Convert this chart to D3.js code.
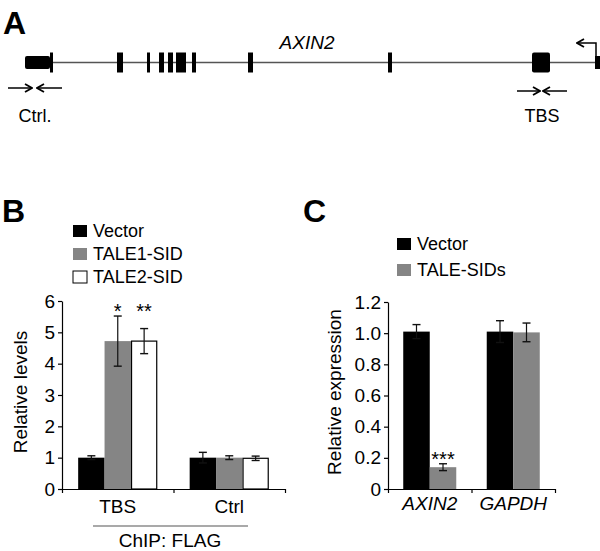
<!DOCTYPE html>
<html>
<head>
<meta charset="utf-8">
<script src="https://cdn.jsdelivr.net/npm/d3@7"></script>
<style>
  body { margin: 0; background: #fff; }
  text { font-family: Arial, "Liberation Sans", sans-serif; fill: #000; }
  .axis text { font-size: 19px; }
  .axis path, .axis line { stroke: #000; stroke-width: 1.2; }
</style>
</head>
<body>
<div class="chart"></div>
<script>
// ---- data -----------------------------------------------------------
// gene map (positions in map units along the AXIN2 locus, left = 3' end)
var exons = [
  { start: 25, end: 50, type: "utr" },
  { start: 50, end: 53, type: "cds" },
  { start: 117, end: 123, type: "cds" },
  { start: 147, end: 150, type: "cds" },
  { start: 159, end: 164, type: "cds" },
  { start: 168, end: 173, type: "cds" },
  { start: 176, end: 186, type: "cds" },
  { start: 192, end: 196, type: "cds" },
  { start: 248, end: 253, type: "cds" },
  { start: 388, end: 392, type: "cds" },
  { start: 532, end: 550, type: "cds" },
  { start: 595, end: 600, type: "utr" }
];
var primers = [
  { label: "Ctrl.", fwd: [8, 32], rev: [62, 37] },
  { label: "TBS", fwd: [517, 540], rev: [567, 543] }
];

// panel B: ChIP
var chipSites = ["TBS", "Ctrl"];
var chipSeries = ["Vector", "TALE1-SID", "TALE2-SID"];
var chipValues = [[1.0, 4.72, 4.72], [1.0, 1.0, 0.98]];
var chipErrors = [[0.06, 0.8, 0.4], [0.17, 0.06, 0.07]];
var chipStars = [["", "*", "**"], ["", "", ""]];
var chipTicks = [0, 1, 2, 3, 4, 5, 6];
var chipTickLabels = ["0", "1", "2", "3", "4", "5", "6"];

// panel C: expression
var genes = ["AXIN2", "GAPDH"];
var exprSeries = ["Vector", "TALE-SIDs"];
var exprValues = [[1.01, 0.14], [1.01, 1.005]];
var exprErrors = [[0.045, 0.022], [0.07, 0.06]];
var exprStars = [["", "***"], ["", ""]];
var exprTicks = [0, 0.2, 0.4, 0.6, 0.8, 1.0, 1.2];
var exprTickLabels = ["0", "0.2", "0.4", "0.6", "0.8", "1.0", "1.2"];

var fills = { "Vector": "#000", "TALE1-SID": "#858585", "TALE2-SID": "#fff", "TALE-SIDs": "#858585" };

// ---- svg ------------------------------------------------------------
var svg = d3.select(".chart").append("svg")
  .attr("width", 600).attr("height", 551);

var defs = svg.append("defs");
defs.append("marker")
  .attr("id", "arr")
  .attr("viewBox", "0 0 10 10")
  .attr("refX", 9).attr("refY", 5)
  .attr("markerWidth", 10).attr("markerHeight", 10)
  .attr("markerUnits", "userSpaceOnUse")
  .attr("orient", "auto")
  .append("path")
  .attr("d", "M2,1 L9,5 L2,9")
  .attr("fill", "none").attr("stroke", "#000").attr("stroke-width", 1.8);

// panel letters
[["A", 3, 34], ["B", 2, 222], ["C", 303, 222]].forEach(function (p) {
  svg.append("text")
    .attr("x", p[1]).attr("y", p[2])
    .attr("font-size", 32).attr("font-weight", "bold")
    .text(p[0]);
});

// ---- panel A: gene map ----------------------------------------------
var gx = d3.scaleLinear().domain([0, 600]).range([0, 600]);
var lineY = 62.5;
var gA = svg.append("g");

gA.append("line")
  .attr("x1", gx(25)).attr("x2", gx(600))
  .attr("y1", lineY).attr("y2", lineY)
  .attr("stroke", "#555").attr("stroke-width", 1.5);

gA.selectAll(".exon").data(exons).enter().append("rect")
  .attr("class", "exon")
  .attr("x", d => gx(d.start))
  .attr("width", d => gx(d.end) - gx(d.start))
  .attr("y", d => d.type == "utr" ? lineY - 6.5 : lineY - 10)
  .attr("height", d => d.type == "utr" ? 13 : 20)
  .attr("rx", d => d.end - d.start > 15 ? 2 : 0)
  .attr("fill", "#000");

gA.append("text")
  .attr("x", gx(307)).attr("y", 49)
  .attr("text-anchor", "middle")
  .attr("font-size", 19).attr("font-style", "italic")
  .text("AXIN2");

// transcription start arrow
gA.append("path")
  .attr("d", `M${gx(596)},${lineY - 6} V43 H${gx(577)}`)
  .attr("fill", "none").attr("stroke", "#000").attr("stroke-width", 1.5)
  .attr("marker-end", "url(#arr)");

primers.forEach(function (p) {
  var y = p.label == "TBS" ? 91 : 88;
  [p.fwd, p.rev].forEach(function (a) {
    gA.append("line")
      .attr("x1", gx(a[0])).attr("x2", gx(a[1]))
      .attr("y1", y).attr("y2", y)
      .attr("stroke", "#000").attr("stroke-width", 1.5)
      .attr("marker-end", "url(#arr)");
  });
  gA.append("text")
    .attr("x", gx((p.fwd[0] + p.rev[0]) / 2)).attr("y", 122)
    .attr("text-anchor", "middle").attr("font-size", 18)
    .text(p.label);
});

// ---- bar chart helper -----------------------------------------------
function barPanel(opt) {
  var y = d3.scaleLinear().domain(opt.domain).range([489, opt.top]);
  var x0 = d3.scaleBand().domain(opt.cats).range([opt.left, opt.right])
    .paddingInner(opt.pad).paddingOuter(opt.pad / 2);
  var x1 = d3.scaleBand().domain(opt.series).range([0, x0.bandwidth()]);
  var g = svg.append("g");

  var yAxis = d3.axisLeft(y).tickValues(opt.ticks).tickSize(4).tickPadding(3).tickSizeOuter(0)
    .tickFormat((d, i) => opt.tickLabels[i]);
  g.append("g").attr("class", "axis")
    .attr("transform", `translate(${opt.left},0)`)
    .call(yAxis);

  // x axis with ticks at the category boundaries
  var xb = d3.scaleLinear().domain([0, opt.cats.length]).range([opt.left, opt.right]);
  g.append("g").attr("class", "axis")
    .attr("transform", "translate(0,489)")
    .call(d3.axisBottom(xb).tickValues(d3.range(opt.cats.length + 1))
      .tickSize(4).tickSizeOuter(0).tickFormat(""));

  opt.cats.forEach(function (cat, ci) {
    var grp = g.append("g").attr("transform", `translate(${x0(cat)},0)`);
    // stars sit just above the highest starred error bar of the group
    var starTop = d3.max(opt.series, (s, si) => opt.stars[ci][si] ? opt.values[ci][si] + opt.errors[ci][si] : null);
    opt.series.forEach(function (s, si) {
      var v = opt.values[ci][si], e = opt.errors[ci][si];
      var cx = x1(s) + x1.bandwidth() / 2;
      grp.append("rect")
        .attr("x", x1(s) + (fills[s] == "#fff" ? 0.6 : 0))
        .attr("width", x1.bandwidth() - (fills[s] == "#fff" ? 1.2 : 0))
        .attr("y", y(v)).attr("height", y(0) - y(v))
        .attr("fill", fills[s])
        .attr("stroke", fills[s] == "#fff" ? "#000" : "none")
        .attr("stroke-width", 1.2);
      grp.append("line")
        .attr("x1", cx).attr("x2", cx)
        .attr("y1", y(v + e)).attr("y2", y(v - e))
        .attr("stroke", "#111").attr("stroke-width", 1.2);
      [v + e, v - e].forEach(function (t) {
        grp.append("line")
          .attr("x1", cx - 4).attr("x2", cx + 4)
          .attr("y1", y(t)).attr("y2", y(t))
          .attr("stroke", "#111").attr("stroke-width", 1.4);
      });
      if (opt.stars[ci][si]) {
        grp.append("text")
          .attr("x", cx).attr("y", y(starTop) + 2)
          .attr("text-anchor", "middle").attr("font-size", 20)
          .text(opt.stars[ci][si]);
      }
    });
    g.append("text")
      .attr("x", x0(cat) + x0.bandwidth() / 2).attr("y", opt.labelY)
      .attr("text-anchor", "middle").attr("font-size", 19)
      .attr("font-style", opt.italic ? "italic" : "normal")
      .text(cat);
  });

  g.append("text")
    .attr("transform", `translate(${opt.yLabelX},392) rotate(-90)`)
    .attr("text-anchor", "middle").attr("font-size", 19)
    .text(opt.yLabel);

  // legend
  opt.series.forEach(function (s, i) {
    var ly = opt.legendY + i * opt.legendStep;
    g.append("rect")
      .attr("x", opt.legendX).attr("y", ly - 11)
      .attr("width", 14).attr("height", 12)
      .attr("fill", fills[s])
      .attr("stroke", fills[s] == "#fff" ? "#000" : "none");
    g.append("text")
      .attr("x", opt.legendX + 20).attr("y", ly + 1)
      .attr("font-size", 18)
      .text(s);
  });
  return g;
}

var gB = barPanel({
  domain: [0, 6], top: 301, left: 62, right: 285, pad: 0.29,
  cats: chipSites, series: chipSeries, values: chipValues, errors: chipErrors,
  stars: chipStars, ticks: chipTicks, tickLabels: chipTickLabels,
  labelY: 513, italic: false,
  yLabel: "Relative levels", yLabelX: 27,
  legendX: 73, legendY: 236, legendStep: 23
});

gB.append("line")
  .attr("x1", 93).attr("x2", 248).attr("y1", 526).attr("y2", 526)
  .attr("stroke", "#555").attr("stroke-width", 1.2);
gB.append("text")
  .attr("x", 170).attr("y", 547)
  .attr("text-anchor", "middle").attr("font-size", 19)
  .text("ChIP: FLAG");

barPanel({
  domain: [0, 1.2], top: 302, left: 388, right: 555, pad: 0.365,
  cats: genes, series: exprSeries, values: exprValues, errors: exprErrors,
  stars: exprStars, ticks: exprTicks, tickLabels: exprTickLabels,
  labelY: 510, italic: true,
  yLabel: "Relative expression", yLabelX: 341,
  legendX: 397, legendY: 249, legendStep: 26
});
</script>
</body>
</html>
